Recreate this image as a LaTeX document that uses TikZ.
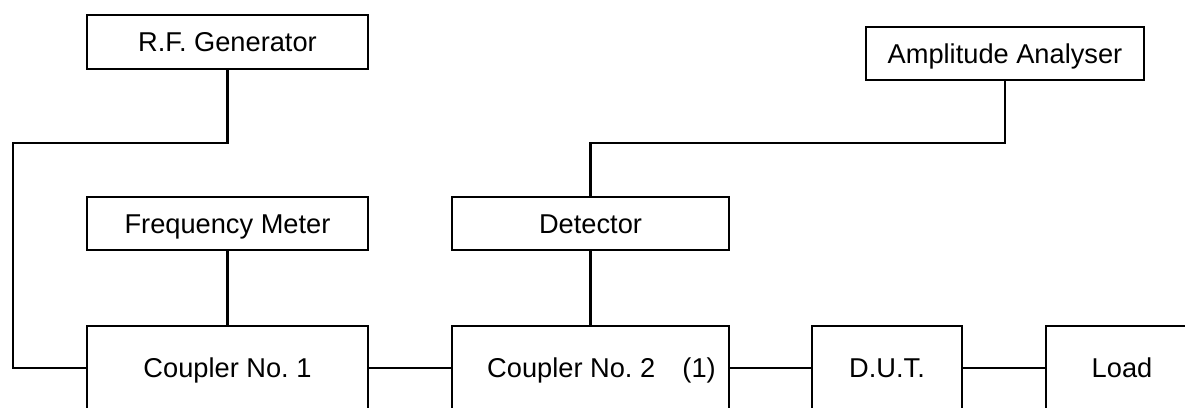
\documentclass[tikz,border=0pt]{standalone}
\usepackage{fontspec}
\setmainfont{Liberation Sans}
\frenchspacing
\begin{document}
\begin{tikzpicture}[x=0.02cm,y=-0.02cm,line width=1.3pt,
  blk/.style={draw,minimum height=1.07cm,inner sep=0pt,text height=11.2pt,text depth=0pt,
    font=\fontsize{15.5}{18}\selectfont}]
\useasboundingbox (0,0) rectangle (1185,407);
\clip (0,0) rectangle (1185,407);

\node[blk,minimum width=5.62cm] (rfg) at (227.5,42) {R.F. Generator};
\node[blk,minimum width=5.56cm] (aa) at (1005,53.5) {Amplitude Analyser};
\node[blk,minimum width=5.62cm] (fm) at (227.5,223.5) {Frequency Meter};
\node[blk,minimum width=5.54cm] (det) at (590.5,223.5) {Detector};

\node[blk,minimum width=5.62cm,minimum height=1.68cm] (cpa) at (227.5,368) {Coupler No. 1};
\node[blk,minimum width=5.54cm,minimum height=1.68cm] (cpb) at (590.5,368) {\hspace*{0.44cm}Coupler No. 2\quad(1)};
\node[blk,minimum width=3cm,minimum height=1.68cm] (dut) at (887,368) {D.U.T.};
\node[blk,minimum width=3.04cm,minimum height=1.68cm] (load) at (1122,368) {Load};

\coordinate (bendL) at (13,143);
\coordinate (bendR) at (1005,143);

\draw (rfg.south) |- (bendL) |- (cpa.west);
\draw (fm) -- (cpa);
\draw (det) -- (cpb);
\draw (det.north) |- (bendR) -- (aa.south);
\draw (cpa) -- (cpb);
\draw (cpb) -- (dut);
\draw (dut) -- (load);
\end{tikzpicture}
\end{document}
